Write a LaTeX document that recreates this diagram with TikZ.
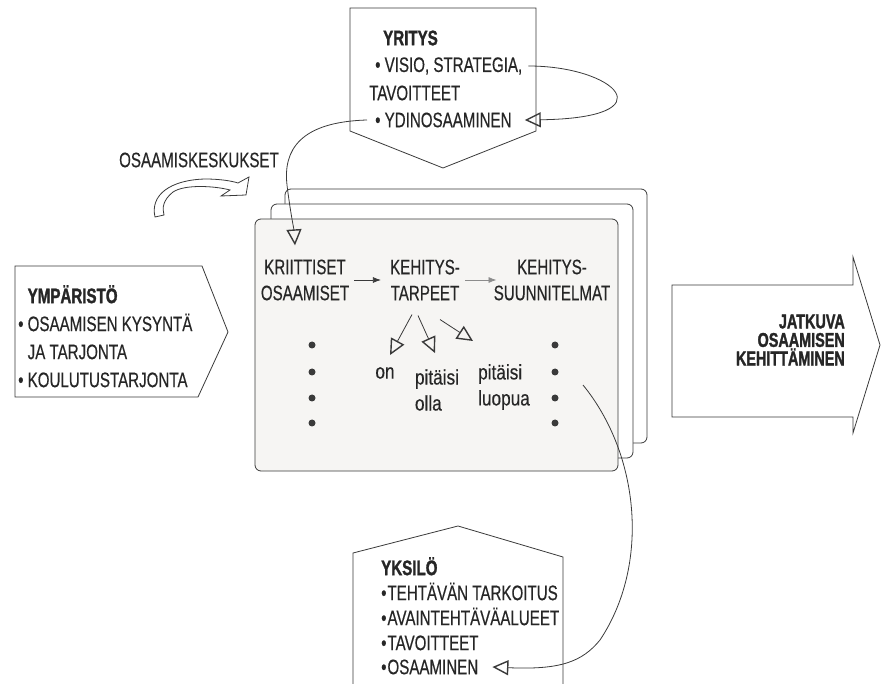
\documentclass[tikz,border=0pt]{standalone}
\usepackage{fontspec}
\setmainfont{Liberation Sans}[FakeStretch=0.72, UprightFeatures={FakeBold=0.4}, BoldFeatures={FakeBold=1.4}]
\newfontfamily\pienet{Liberation Sans}[FakeStretch=0.82, FakeBold=0.4]
\usepackage{xcolor}
\usepackage{tikz}
\usetikzlibrary{arrows.meta}
\usetikzlibrary{positioning}
\definecolor{viiva}{HTML}{3A3A3A}
\definecolor{teksti}{HTML}{262626}
\definecolor{pohja}{HTML}{F6F5F3}
\tikzset{
    kehys/.style = {draw=viiva, line width=0.8pt},
    lehti/.style = {kehys, rounded corners=6pt},
    rivit/.style = {inner sep=0pt, align=left, text=teksti, font=\fontsize{21}{26}\selectfont},
    lihava/.style = {font=\fontsize{21}{26}\selectfont\bfseries},
    pieni/.style = {font=\fontsize{21}{26}\selectfont\pienet},
    piste/.style = {circle, fill=viiva, inner sep=0pt, minimum size=7pt},
    avoin/.style = {-{Triangle[open, length=16pt, width=15pt, line width=1.4pt]}},
    >={Latex[length=8pt, width=6pt]}
}

\begin{document}
\begin{tikzpicture}[x=1pt, y=-1pt]
    \useasboundingbox (0,0) rectangle (881,684);
    % yritys
    \draw[kehys, fill=white] (350,8) -- (536,8) -- (536,131) -- (443,168) -- (350,131) -- cycle;
    \node (yr-otsikko) [rivit, lihava, anchor=west] at (383,38) {YRITYS};
    \node (yr-visio) [rivit, anchor=west] at (375,66) {\textbullet\ VISIO, STRATEGIA,};
    \node (yr-tavoit) [rivit, anchor=west] at (369,93) {TAVOITTEET};
    \node (yr-ydin) [rivit, anchor=west] at (375,120) {\textbullet\ YDINOSAAMINEN};

    % ympäristö
    \draw[kehys, fill=white] (15,266) -- (202,266) -- (228,332) -- (198,397) -- (15,397) -- cycle;
    \node (ymparisto) [rivit, anchor=north west, font=\fontsize{21}{28}\selectfont] at (18,285)
        {\hphantom{\textbullet\ }\textbf{YMPÄRISTÖ}\\
         \textbullet\ OSAAMISEN KYSYNTÄ\\
         \hphantom{\textbullet\ }JA TARJONTA\\
         \textbullet\ KOULUTUSTARJONTA};

    % osaamiskeskukset
    \node (keskukset) [rivit] at (199,160) {OSAAMISKESKUKSET};
    \draw[kehys, fill=white] (155,217) .. controls (150,195) and (170,180) .. (205,179)
        .. controls (220,179) and (232,181) .. (238,183) -- (249,177) -- (246,195) -- (221,196)
        -- (230,190) .. controls (215,186) and (185,184) .. (173,192)
        .. controls (163,200) and (162,208) .. (164,215) -- cycle;

    % lehtipino
    \draw[lehti, fill=white] (285,189) rectangle (647,443);
    \draw[lehti, fill=white] (271,204) rectangle (633,458);
    \draw[lehti, fill=pohja] (255,219) rectangle (618,471);
    \node (kriit) [rivit, align=center] at (305,280) {KRIITTISET\\OSAAMISET};
    \node (tarpeet) [rivit, align=center] at (425,280) {KEHITYS-\\TARPEET};
    \node (suunn) [rivit, align=center] at (552,280) {KEHITYS-\\SUUNNITELMAT};
    \draw[kehys, ->, shorten <=5pt, shorten >=9pt] (kriit.east) -- (tarpeet.west |- kriit.east);
    \draw[kehys, draw=black!45, ->, shorten <=5pt, shorten >=-3pt] (tarpeet.east) -- (suunn.west |- tarpeet.east);
    \node (on) [rivit, pieni] at (385,373) {on};
    \node (olla) [rivit, pieni] at (437,390) {pitäisi\\olla};
    \node (luopua) [rivit, pieni] at (504,387) {pitäisi\\luopua};
    \draw[kehys, avoin] ([shift={(-13,14)}]tarpeet.south) -- ([shift={(5,-12)}]on.north);
    \draw[kehys, avoin] ([shift={(-7,15)}]tarpeet.south) -- ([shift={(-2,-16)}]olla.north);
    \draw[kehys, avoin] ([shift={(15,19)}]tarpeet.south) -- ([shift={(-31,-23)}]luopua.north);
    \foreach \y in {345,372,398,423} {
        \node (vas-\y) [piste] at (312,\y) {};
        \node (oik-\y) [piste] at (555,\y) {};
    }

    % yksilö
    \draw[kehys, fill=white] (353,690) -- (353,553) -- (458,526) -- (563,557) -- (563,690);
    \node (yksilo) [rivit, anchor=north west, font=\fontsize{21}{25}\selectfont] at (381,557)
        {\textbf{YKSILÖ}\\
         \textbullet\hspace{1pt}TEHTÄVÄN TARKOITUS\\
         \textbullet\hspace{1pt}AVAINTEHTÄVÄALUEET\\
         \textbullet\hspace{1pt}TAVOITTEET};
    \node (osaaminen) [rivit, anchor=west] at (381,667) {\textbullet\hspace{1pt}OSAAMINEN};

    % jatkuva kehittäminen
    \draw[kehys, fill=white] (672,285) -- (853,285) -- (853,257) -- (880,345) -- (853,433) -- (853,417) -- (672,417) -- cycle;
    \node (jatkuva) [rivit, align=right, anchor=east, font=\fontsize{20}{18.5}\selectfont\bfseries] at (845,340)
        {JATKUVA\\OSAAMISEN\\KEHITTÄMINEN};

    % yhteydet
    \draw[kehys, avoin] ([xshift=6pt]yr-visio.east) .. controls (615,66) and (670,118) .. ([xshift=13pt]yr-ydin.east);
    \draw[kehys, avoin] ([xshift=-8pt]yr-ydin.west) .. controls (300,122) and (283,150) .. (287,185)
        .. controls (290,210) and (294,230) .. ([shift={(-10,-14)}]kriit.north);
    \draw[kehys, avoin] ([shift={(28,13)}]oik-372.center) .. controls (640,455) and (650,565) .. (600,640)
        .. controls (582,662) and (560,670) .. ([xshift=14pt]osaaminen.east);
\end{tikzpicture}
\end{document}
